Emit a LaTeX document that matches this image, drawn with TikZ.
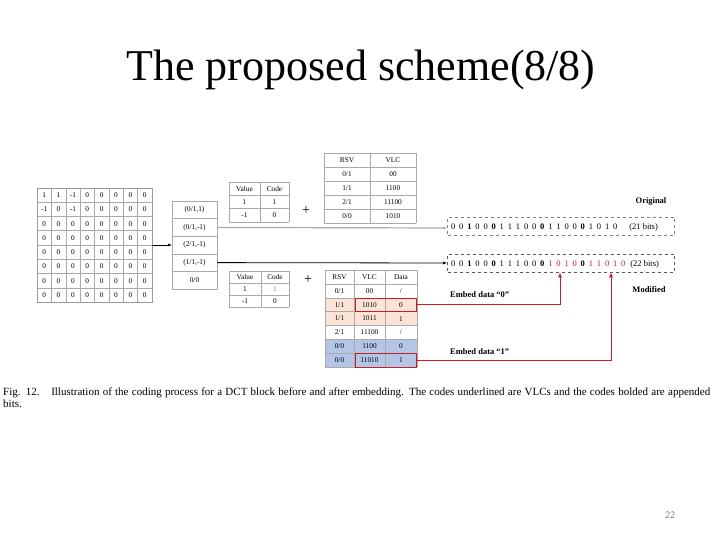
\documentclass[tikz,border=0pt]{standalone}
\usepackage{fontspec}
\setmainfont{Liberation Serif}
\usetikzlibrary{arrows.meta}
\definecolor{peach}{RGB}{251,228,213}
\definecolor{lblue}{RGB}{180,198,231}
\definecolor{dred}{RGB}{200,30,35}
\definecolor{gline}{RGB}{170,170,170}
\newcommand{\dg}[1]{\makebox[8.1pt]{#1}}
\newcommand{\bd}[1]{\makebox[8.1pt]{\textbf{#1}}}
\newcommand{\rd}[1]{\makebox[8.1pt]{\textcolor{dred}{#1}}}
\tikzset{
  tx/.style={font=\fontsize{7.3}{8}\selectfont, inner sep=0pt},
  grd/.style={draw=gline, line width=0.5pt},
  dbox/.style={draw=gray, dashed, line width=0.6pt},
  lbl/.style={font=\fontsize{8.5}{10}\selectfont\bfseries, inner sep=0pt},
  redl/.style={draw=dred, line width=0.9pt},
}
\begin{document}
\begin{tikzpicture}[x=1pt,y=-1pt]
\useasboundingbox (0,0) rectangle (720,540);
\fill[white] (0,0) rectangle (720,540);
% title
\node[font=\fontsize{44}{50}\selectfont, inner sep=0pt] (title) at (361,70) {The proposed scheme(8/8)};
% DCT matrix
\foreach \i in {0,...,8} {
  \draw[grd] (37+14.375*\i,188) -- (37+14.375*\i,302);
  \draw[grd] (37,188+14.25*\i) -- (152,188+14.25*\i);
}
\draw[gray!80, line width=0.7pt] (37,188) rectangle (152,302);
\foreach \r [count=\i] in {{1,1,-1,0,0,0,0,0},{-1,0,-1,0,0,0,0,0},{0,0,0,0,0,0,0,0},{0,0,0,0,0,0,0,0},{0,0,0,0,0,0,0,0},{0,0,0,0,0,0,0,0},{0,0,0,0,0,0,0,0},{0,0,0,0,0,0,0,0}} {
  \foreach \v [count=\j] in \r {
    \node[tx] (m\i\j) at (37+14.375*\j-7.19, 188+14.25*\i-7.125) {\v};
  }
}
\coordinate (mright) at (152,245);
% run-level list
\foreach \t [count=\i] in {(0/1{,}1),(0/1{,}-1),(2/1{,}-1),(1/1{,}-1),0/0} {
  \draw[grd] (172,201+17.6*\i-17.6) rectangle (217,201+17.6*\i);
  \node[tx] (l\i) at (194.5,201+17.6*\i-8.8) {\t};
}
\coordinate (lleft) at (172,245);
\draw[-{Latex[length=4pt,width=3pt]}, line width=0.6pt] (mright) -- (lleft);
% Value/Code table (top)
\foreach \k in {0,1,2,3} { \draw[grd] (229,182+13.3*\k) -- (289,182+13.3*\k); }
\draw[grd] (229,182) -- (229,222) (260,182) -- (260,222) (289,182) -- (289,222);
\node[tx] (vh) at (244.5,188.6) {Value}; \node[tx] (ch) at (274.5,188.6) {Code};
\node[tx] (v1) at (244.5,202) {1};      \node[tx] (c1) at (274.5,202) {1};
\node[tx] (v2) at (244.5,215.3) {-1};   \node[tx] (c2) at (274.5,215.3) {0};
\node[font=\fontsize{14}{14}\selectfont, inner sep=0pt] (plus1) at (306,211) {+};
% Value/Code table (bottom)
\foreach \k in {0,1,2,3} { \draw[grd] (229,271+12*\k) -- (289,271+12*\k); }
\draw[grd] (229,271) -- (229,307) (261,271) -- (261,307) (289,271) -- (289,307);
\node[tx] (bvh) at (245,277) {Value}; \node[tx] (bch) at (275,277) {Code};
\node[tx] (bv1) at (245,289) {1};     \node[tx, text=gray] (bc1) at (275,289) {1};
\node[tx] (bv2) at (245,301) {-1};    \node[tx] (bc2) at (275,301) {0};
\node[font=\fontsize{14}{14}\selectfont, inner sep=0pt] (plus2) at (308,280) {+};
% RSV/VLC table (top)
\foreach \k in {0,...,5} { \draw[grd] (324,153+14*\k) -- (416,153+14*\k); }
\draw[grd] (324,153) -- (324,223) (370,153) -- (370,223) (416,153) -- (416,223);
\node[tx] (r0) at (347,160) {RSV};  \node[tx] (s0) at (393,160) {VLC};
\node[tx] (r1) at (347,174) {0/1};  \node[tx] (s1) at (393,174) {00};
\node[tx] (r2) at (347,188) {1/1};  \node[tx] (s2) at (393,188) {1100};
\node[tx] (r3) at (347,202) {2/1};  \node[tx] (s3) at (393,202) {11100};
\node[tx] (r4) at (347,216) {0/0};  \node[tx] (s4) at (393,216) {1010};
% RSV/VLC/Data table (bottom)
\fill[peach] (325,297.6) rectangle (417,325.4);
\fill[lblue] (325,339.3) rectangle (417,367.1);
\foreach \k in {0,...,7} { \draw[grd] (325,270+13.9*\k) -- (417,270+13.9*\k); }
\draw[grd] (325,270) -- (325,367.3) (354,270) -- (354,367.3) (385,270) -- (385,367.3) (417,270) -- (417,367.3);
\node[tx] (t0a) at (339.5,277) {RSV}; \node[tx] (t0b) at (369.5,277) {VLC};   \node[tx] (t0c) at (401,277) {Data};
\node[tx] (t1a) at (339.5,290.8) {0/1}; \node[tx] (t1b) at (369.5,290.8) {00};    \node[tx] (t1c) at (401,290.8) {/};
\node[tx] (t2a) at (339.5,304.7) {1/1}; \node[tx] (t2b) at (369.5,304.7) {1010};  \node[tx] (t2c) at (401,304.7) {0};
\node[tx] (t3a) at (339.5,318.6) {1/1}; \node[tx] (t3b) at (369.5,318.6) {1011};  \node[tx] (t3c) at (401,318.6) {1};
\node[tx] (t4a) at (339.5,332.5) {2/1}; \node[tx] (t4b) at (369.5,332.5) {11100}; \node[tx] (t4c) at (401,332.5) {/};
\node[tx] (t5a) at (339.5,346.4) {0/0}; \node[tx] (t5b) at (369.5,346.4) {1100};  \node[tx] (t5c) at (401,346.4) {0};
\node[tx] (t6a) at (339.5,360.3) {0/0}; \node[tx] (t6b) at (369.5,360.3) {11010}; \node[tx] (t6c) at (401,360.3) {1};
\draw[redl] (355,298) rectangle (416.5,311.5);
\draw[redl] (355,353.6) rectangle (416.5,367);
% bit strings
\node[dbox, minimum width=227pt, minimum height=18pt, inner sep=0pt] (orig) at (561,226) {};
\node[dbox, draw=gray!70!black, minimum width=227pt, minimum height=18pt, inner sep=0pt] (modi) at (561,263) {};
\node[font=\fontsize{8.5}{10}\selectfont, inner sep=0pt, anchor=west] (origbits) at (449,227)
 {\dg0\dg0\bd1\dg0\dg0\bd0\dg1\dg1\dg1\dg0\dg0\bd0\dg1\dg1\dg0\dg0\bd0\dg1\dg0\dg1\dg0\hspace{10pt}(21 bits)};
\node[font=\fontsize{8.5}{10}\selectfont, inner sep=0pt, anchor=west] (modbits) at (449,264)
 {\dg0\dg0\bd1\dg0\dg0\bd0\dg1\dg1\dg1\dg0\dg0\bd0\rd1\rd0\rd1\rd0\bd0\rd1\rd1\rd0\rd1\rd0\hspace{3pt}(22 bits)};
\draw[gline, line width=1.2pt, -{Latex[length=4pt,width=3pt]}] (l2.east -| 217,228) -- (orig.west |- 0,228);
\draw[black, line width=0.8pt, -{Latex[length=4pt,width=3pt]}] (l4.east -| 217,263) -- (modi.west |- 0,263);
\node[lbl] (original) at (651,201) {Original};
\node[lbl] (modified) at (649,290) {Modified};
\node[lbl, anchor=west] (emb0) at (450,295) {Embed data “0”};
\node[lbl, anchor=west] (emb1) at (450,352) {Embed data “1”};
\coordinate (a0) at (560,304.7);
\coordinate (a1) at (611,360.3);
\draw[redl, -{Latex[length=5pt,width=4pt]}] (416.5,304.7) -- (a0) -- (a0 |- modi.south);
\draw[redl, -{Latex[length=5pt,width=4pt]}] (416.5,360.3) -- (a1) -- (a1 |- modi.south);
% caption
\node[font=\fontsize{11}{12}\selectfont, inner sep=0pt, anchor=north west, align=left] (cap) at (3,388)
 {\makebox[707pt][s]{Fig. 12.\hspace{0.6em} Illustration of the coding process for a DCT block before and after embedding. The codes underlined are VLCs and the codes bolded are appended}\\bits.};
% page number
\node[font=\sffamily\fontsize{10}{12}\selectfont, text=gray, inner sep=0pt] (pg) at (670,515) {22};
\end{tikzpicture}
\end{document}
